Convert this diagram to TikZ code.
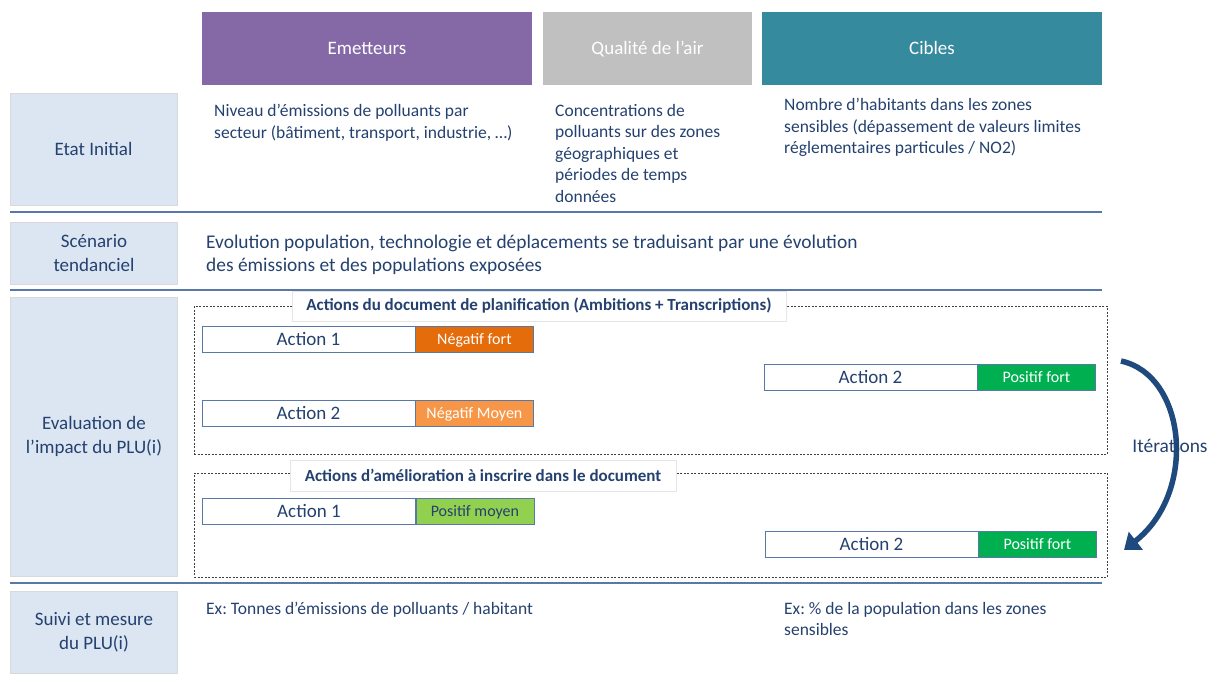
\documentclass[tikz,border=0pt]{standalone}
\usepackage{fontspec}
\setmainfont{Carlito}
\usetikzlibrary{positioning,arrows.meta}

\definecolor{txtblue}{HTML}{24416F}
\definecolor{lblue}{HTML}{DCE6F2}
\definecolor{emit}{HTML}{8568A6}
\definecolor{airq}{HTML}{C0C0C0}
\definecolor{cible}{HTML}{368A9E}
\definecolor{rule}{HTML}{5878A8}
\definecolor{negfort}{HTML}{E46C0A}
\definecolor{negmoy}{HTML}{F79646}
\definecolor{posfort}{HTML}{00B050}
\definecolor{posmoy}{HTML}{92D050}
\definecolor{iter}{HTML}{1F4A7D}

\tikzstyle{header}=[minimum height=73pt,inner sep=0pt,text height=12pt,text depth=0pt,text=white,font=\fontsize{19}{22}\selectfont]
\tikzstyle{row label}=[fill=lblue,draw=black!15,inner sep=0pt,align=center,text=txtblue,font=\fontsize{19}{24}\selectfont]
\tikzstyle{desc}=[anchor=north west,inner sep=0pt,align=left,text=txtblue,font=\fontsize{17.5}{21.5}\selectfont]
\tikzstyle{action}=[draw=rule,fill=white,minimum width=213pt,minimum height=26pt,inner sep=0pt,text height=12pt,text depth=0pt,text=txtblue,font=\fontsize{19}{21}\selectfont]
\tikzstyle{tag}=[draw=rule,minimum width=118pt,minimum height=26pt,inner sep=0pt,text height=10pt,text depth=0pt,text=white,font=\fontsize{16}{18}\selectfont]
\tikzstyle{frame}=[draw=black!75,line width=0.7pt,dash pattern=on 2pt off 1.5pt,inner sep=0pt]
\tikzstyle{frame title}=[fill=white,draw=black!10,inner sep=0pt,text=txtblue,font=\bfseries\fontsize{17}{19}\selectfont]
\tikzstyle{sep}=[draw=rule,line width=1.6pt]
\tikzstyle{iter arrow}=[draw=iter,line width=5.5pt,-{Triangle[width=22pt,length=15pt]}]

\begin{document}
\frenchspacing
\begin{tikzpicture}[x=1pt,y=-1pt]
    \useasboundingbox (0,0) rectangle (1208,673);
    % Column headers
    \foreach \pos/\name/\col/\w/\txt in {{(367,48.5)/emet/emit/330/Emetteurs},
        {(647.5,48.5)/air/airq/209/Qualité de l’air},{(932,48.5)/cible/cible/340/Cibles}}
    \node[header,fill=\col,minimum width=\w pt] (\name) at \pos {\txt};
    % Row labels
    \foreach \pos/\name/\h/\txt in {{(93.5,149)/etat/112/Etat Initial},
        {(94,253)/scen/62/Scénario\\tendanciel},
        {(94,436.5)/eval/279/Evaluation de\\l’impact du PLU(i)},
        {(94,632)/suivi/82/Suivi et mesure\\du PLU(i)}}
    \node[row label,minimum width=167pt,minimum height=\h pt] (\name) at \pos {\txt};
    % Separators
    \foreach \y in {212,290,583}
    \path[sep] (10,\y) -- (1102,\y);
    % Descriptions
    \node[desc] (emet desc) at (214,104) {Niveau d’émissions de polluants par\\secteur (bâtiment, transport, industrie, …)};
    \node[desc] (air desc) at (555,104) {Concentrations de\\polluants sur des zones\\géographiques et\\périodes de temps\\données};
    \node[desc] (cible desc) at (784,98) {Nombre d’habitants dans les zones\\sensibles (dépassement de valeurs limites\\réglementaires particules / NO2)};
    \node[desc,font=\fontsize{19.4}{23}\selectfont] (scen desc) at (206,235) {Evolution population, technologie et déplacements se traduisant par une évolution\\des émissions et des populations exposées};
    \node[desc] (suivi desc) at (206,602) {Ex: Tonnes d’émissions de polluants / habitant};
    \node[desc] (suivi desc2) at (784,602) {Ex: \% de la population dans les zones\\sensibles};
    % Dashed frames and their titles
    \node[frame,minimum width=913pt,minimum height=148pt] (plan frame) at (650.5,380) {};
    \node[frame,minimum width=913pt,minimum height=104pt] (amel frame) at (650.5,525) {};
    \node[frame title,minimum width=494pt,minimum height=30pt] (plan title) at (539,306) {Actions du document de planification (Ambitions + Transcriptions)};
    \node[frame title,minimum width=386pt,minimum height=31pt] (amel title) at (483,475.5) {Actions d’amélioration à inscrire dans le document};
    % Actions and their impact
    \foreach \pos/\name/\txt/\col/\lbl/\tc in {
        {(308.5,339)/p1/Action 1/negfort/Négatif fort/white},
        {(308.5,413.5)/p2/Action 2/negmoy/Négatif Moyen/white},
        {(870.5,377.5)/p3/Action 2/posfort/Positif fort/white},
        {(309,511.5)/m1/Action 1/posmoy/Positif moyen/txtblue},
        {(871.5,544.5)/m2/Action 2/posfort/Positif fort/white}}
    {
    \node[action] (\name) at \pos {\txt};
    \node[tag,fill=\col,text=\tc,right=0pt of \name] (\name tag) {\lbl};
    }
    % Iterations
    \coordinate (it start) at (1121,361);
    \coordinate (it end) at (1124,550);
    \path[iter arrow] (it start) .. controls (1186,375) and (1198,492) .. (it end);
    \node[text=txtblue,font=\fontsize{19.4}{21}\selectfont] (it label) at (1170,446) {Itérations};
\end{tikzpicture}
\end{document}
